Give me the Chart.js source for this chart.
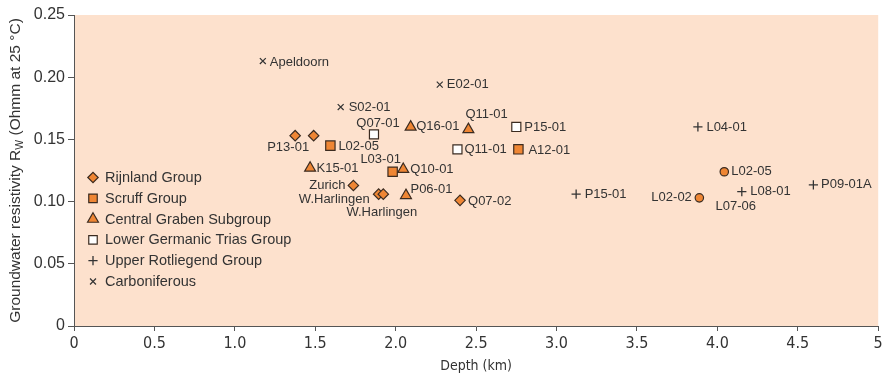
<!DOCTYPE html>
<html>
<head>
<meta charset="utf-8">
<script src="https://cdn.jsdelivr.net/npm/chart.js@4.4.1/dist/chart.umd.min.js"></script>
<style>
  html, body { margin: 0; padding: 0; background: #ffffff; }
  #wrap { width: 886px; height: 379px; }
</style>
</head>
<body>
<div id="wrap"><canvas id="chart" width="886" height="379"></canvas></div>
<script>
// Formation-water resistivity Rw (Ohmm at 25 °C) against depth (km), per well and stratigraphic unit
const rijnlandWells = ['P13-01', '', 'Zurich', 'W.Harlingen', 'W.Harlingen', 'Q07-02'];
const rijnlandDepth = [1.375, 1.49, 1.737, 1.894, 1.923, 2.40];
const rijnlandRw    = [0.153, 0.153, 0.113, 0.106, 0.106, 0.101];

const l02Wells = ['L02-05', 'L02-02'];
const l02Depth = [4.043, 3.888];
const l02Rw    = [0.124, 0.103];

const scruffWells = ['L02-05', 'L03-01', 'A12-01'];
const scruffDepth = [1.594, 1.981, 2.763];
const scruffRw    = [0.145, 0.124, 0.142];

const grabenWells = ['K15-01', 'Q16-01', 'Q11-01', 'Q10-01', 'P06-01'];
const grabenDepth = [1.468, 2.093, 2.452, 2.047, 2.064];
const grabenRw    = [0.127, 0.160, 0.158, 0.126, 0.105];

const triasWells = ['Q07-01', 'Q11-01', 'P15-01'];
const triasDepth = [1.865, 2.384, 2.750];
const triasRw    = [0.154, 0.142, 0.160];

const rotliegendWells  = ['P15-01', 'L04-01', 'L08-01', 'P09-01A'];
const rotliegendShared = ['', '', 'L07-06', ''];   // second well at the same site
const rotliegendDepth  = [3.122, 3.879, 4.152, 4.597];
const rotliegendRw     = [0.106, 0.160, 0.108, 0.1135];

const carbWells = ['Apeldoorn', 'S02-01', 'E02-01'];
const carbDepth = [1.174, 1.658, 2.274];
const carbRw    = [0.213, 0.176, 0.194];

const xTickLabels = ['0', '0.5', '1.0', '1.5', '2.0', '2.5', '3.0', '3.5', '4.0', '4.5', '5'];
const yTickLabels = ['0', '0.05', '0.10', '0.15', '0.20', '0.25'];

// ---- styling ----
const ORANGE = '#ef8634';
const EDGE = '#3b2b20';
const INK = '#333333';
const PEACH = '#fde1cd';
const SANS = "'Liberation Sans', Arial, sans-serif";
const NARROW = "'Liberation Sans Narrow', 'Arial Narrow', 'DejaVu Sans Condensed', sans-serif";

// label placement per point: [textAlign, dx, dy]
const rijnlandPlace = [['center', -7, 12], null, ['right', -8, 0], ['right', -9, 5], ['center', -1.5, 18], ['left', 8, 1]];
const l02Place = [['left', 7, 0], ['right', -7.5, 0]];
const scruffPlace = [['left', 8, 1], ['center', -12, -12], ['left', 10, 1]];
const grabenPlace = [['left', 6.5, 0], ['left', 5.5, -1], ['left', -3, -15], ['left', 7, 0], ['left', 4.5, -6]];
const triasPlace = [['center', 4, -11], ['left', 7, 0], ['left', 8, 0]];
const rotliegendPlace = [['left', 8.5, 0.5], ['left', 8.5, 0], ['left', 8.5, 0], ['left', 7.7, 0]];
const rotliegendSharedPlace = [null, null, ['center', -6, 14.5], null];
const carbPlace = [['left', 7, 1], ['left', 8, 0], ['left', 7, 0]];

function points(xs, ys) {
  return xs.map((x, i) => ({ x: x, y: ys[i] }));
}

const datasets = [
  { label: 'Rijnland Group', data: points(rijnlandDepth, rijnlandRw), wells: rijnlandWells, place: rijnlandPlace,
    pointStyle: 'rectRot', pointRadius: 5.2, backgroundColor: ORANGE, borderColor: EDGE, borderWidth: 1.2, inLegend: true },
  { label: 'Scruff Group', data: points(scruffDepth, scruffRw), wells: scruffWells, place: scruffPlace,
    pointStyle: 'rect', pointRadius: 6.6, backgroundColor: ORANGE, borderColor: EDGE, borderWidth: 1.2, inLegend: true },
  { label: 'Central Graben Subgroup', data: points(grabenDepth, grabenRw), wells: grabenWells, place: grabenPlace,
    pointStyle: 'triangle', pointRadius: 6.3, backgroundColor: ORANGE, borderColor: EDGE, borderWidth: 1.2, inLegend: true },
  { label: 'Lower Germanic Trias Group', data: points(triasDepth, triasRw), wells: triasWells, place: triasPlace,
    pointStyle: 'rect', pointRadius: 6.4, backgroundColor: '#ffffff', borderColor: EDGE, borderWidth: 1.2, inLegend: true },
  { label: 'Upper Rotliegend Group', data: points(rotliegendDepth, rotliegendRw), wells: rotliegendWells, place: rotliegendPlace,
    wells2: rotliegendShared, place2: rotliegendSharedPlace,
    pointStyle: 'cross', pointRadius: 4.6, backgroundColor: INK, borderColor: INK, borderWidth: 1.3, inLegend: true },
  { label: 'Carboniferous', data: points(carbDepth, carbRw), wells: carbWells, place: carbPlace,
    pointStyle: 'crossRot', pointRadius: 4.2, backgroundColor: INK, borderColor: INK, borderWidth: 1.2, inLegend: true },
  { label: 'L02', data: points(l02Depth, l02Rw), wells: l02Wells, place: l02Place,
    pointStyle: 'circle', pointRadius: 4.2, backgroundColor: ORANGE, borderColor: EDGE, borderWidth: 1.2, inLegend: false }
];
datasets.forEach(d => { d.showLine = false; d.pointHoverRadius = d.pointRadius; });

// peach plotting field
const fieldPlugin = {
  id: 'field',
  beforeDraw(chart) {
    const { ctx, chartArea: a } = chart;
    ctx.save();
    ctx.fillStyle = '#ffffff';
    ctx.fillRect(0, 0, chart.width, chart.height);
    ctx.fillStyle = PEACH;
    ctx.fillRect(a.left, a.top, a.right - a.left, a.bottom - a.top);
    ctx.restore();
  }
};

// well names next to their markers
const wellLabelPlugin = {
  id: 'wellLabels',
  afterDatasetsDraw(chart) {
    const ctx = chart.ctx;
    ctx.save();
    ctx.font = '13px ' + SANS;
    ctx.fillStyle = INK;
    ctx.textBaseline = 'middle';
    chart.data.datasets.forEach((ds, di) => {
      const meta = chart.getDatasetMeta(di);
      meta.data.forEach((el, i) => {
        const draw = (names, places) => {
          if (!names || !places) return;
          const name = names[i];
          const p = places[i];
          if (!name || !p) return;
          ctx.textAlign = p[0];
          ctx.fillText(name, el.x + p[1], el.y + p[2]);
        };
        draw(ds.wells, ds.place);
        draw(ds.wells2, ds.place2);
      });
    });
    ctx.restore();
  }
};

// legend inside the plotting field
const insetLegendPlugin = {
  id: 'insetLegend',
  afterDraw(chart) {
    const ctx = chart.ctx;
    const a = chart.chartArea;
    const mx = a.left + 19, tx = a.left + 31;
    let y = 177.5;
    ctx.save();
    chart.data.datasets.forEach(ds => {
      if (!ds.inLegend) return;
      ctx.fillStyle = ds.backgroundColor;
      ctx.strokeStyle = ds.borderColor;
      ctx.lineWidth = ds.borderWidth;
      Chart.helpers.drawPoint(ctx, {
        pointStyle: ds.pointStyle,
        radius: ds.pointStyle === 'rect' ? 6 : ds.pointRadius,
        rotation: 0,
        borderWidth: ds.borderWidth
      }, mx, y);
      ctx.fillStyle = INK;
      ctx.font = '14.5px ' + SANS;
      ctx.textAlign = 'left';
      ctx.textBaseline = 'middle';
      ctx.fillText(ds.label, tx, y + 0.5);
      y += 20.8;
    });
    ctx.restore();
  }
};

// vertical axis title with subscript
const yTitlePlugin = {
  id: 'yTitle',
  afterDraw(chart) {
    const ctx = chart.ctx;
    const a = chart.chartArea;
    const partA = 'Groundwater resistivity R';
    const sub = 'W';
    const partB = ' (Ohmm at 25 \u00b0C)';
    const main = '15.5px ' + SANS, small = '10.5px ' + SANS;
    ctx.save();
    ctx.font = main;
    const wA = ctx.measureText(partA).width, wB = ctx.measureText(partB).width;
    ctx.font = small;
    const wS = ctx.measureText(sub).width;
    const total = wA + wS + wB;
    ctx.translate(16, (a.top + a.bottom) / 2);
    ctx.rotate(-Math.PI / 2);
    ctx.fillStyle = INK;
    ctx.textBaseline = 'middle';
    ctx.textAlign = 'left';
    let x = -total / 2;
    ctx.font = main; ctx.fillText(partA, x, 0); x += wA;
    ctx.font = small; ctx.fillText(sub, x, 4.5); x += wS;
    ctx.font = main; ctx.fillText(partB, x, 0);
    ctx.restore();
  }
};

new Chart(document.getElementById('chart'), {
  type: 'scatter',
  data: { datasets: datasets },
  plugins: [fieldPlugin, wellLabelPlugin, insetLegendPlugin, yTitlePlugin],
  options: {
    responsive: false,
    animation: false,
    devicePixelRatio: 1,
    layout: { padding: { top: 15, right: 6, left: 0, bottom: 0 } },
    plugins: { legend: { display: false }, tooltip: { enabled: false } },
    scales: {
      x: {
        type: 'linear', min: 0, max: 5,
        ticks: {
          stepSize: 0.5, color: INK, padding: 3,
          font: { family: NARROW, size: 16 },
          callback: (v, i) => xTickLabels[i]
        },
        grid: { drawOnChartArea: false, drawTicks: true, tickLength: 5, color: '#555555' },
        border: { display: true, color: '#555555', width: 1 },
        title: { display: true, text: 'Depth (km)', color: INK, font: { family: NARROW, size: 14 }, padding: { top: 0, bottom: 4 } },
        afterFit: s => { s.height = 53; }
      },
      y: {
        type: 'linear', min: 0, max: 0.25,
        ticks: {
          stepSize: 0.05, color: INK, padding: 3,
          font: { family: SANS, size: 16 },
          callback: (v, i) => yTickLabels[i]
        },
        grid: { drawOnChartArea: false, drawTicks: true, tickLength: 6, color: '#555555' },
        border: { display: true, color: '#555555', width: 1 },
        afterFit: s => { s.width = 74; }
      }
    }
  }
});
</script>
</body>
</html>
